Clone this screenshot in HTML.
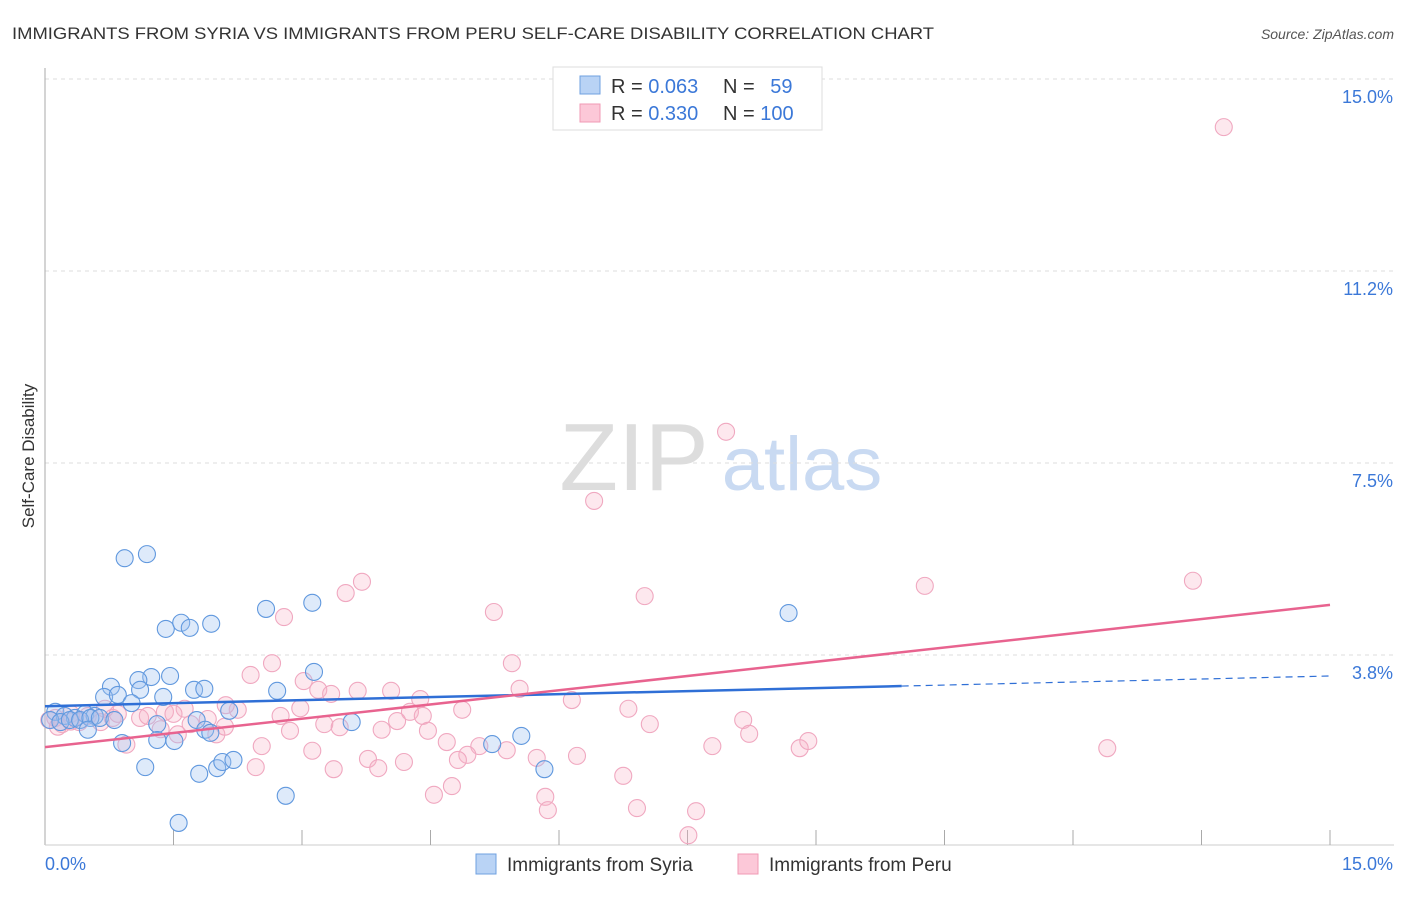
<!DOCTYPE html>
<html><head><meta charset="utf-8"><style>
body{margin:0;background:#fff;font-family:"Liberation Sans",sans-serif;}
svg text{font-family:"Liberation Sans",sans-serif;}
</style></head><body>
<svg width="1406" height="892" viewBox="0 0 1406 892">
<text x="12" y="39" font-size="17" fill="#333" textLength="922" lengthAdjust="spacingAndGlyphs">IMMIGRANTS FROM SYRIA VS IMMIGRANTS FROM PERU SELF-CARE DISABILITY CORRELATION CHART</text>
<text x="1394" y="39" font-size="14" fill="#555" font-style="italic" text-anchor="end">Source: ZipAtlas.com</text>
<text x="34" y="456" font-size="17" fill="#333" transform="rotate(-90 34 456)" text-anchor="middle">Self-Care Disability</text>
<g><text x="634" y="490" font-size="96" fill="#ddd" font-family="Liberation Serif" text-anchor="middle">ZIP</text><text x="802" y="490" font-size="76" fill="#c9daf2" text-anchor="middle">atlas</text></g>
<g id="grid"></g><g id="axes"></g><g id="marks"></g><g id="lines"></g>
<g>
<rect x="553" y="67" width="269" height="63" fill="#fff" stroke="#ddd"/>
<rect x="580" y="76" width="20" height="18" fill="#b9d3f5" stroke="#6fa0e0"/>
<rect x="580" y="104" width="20" height="18" fill="#fcc8d8" stroke="#f09ab4"/>
<text x="611" y="93" font-size="20" fill="#333">R = <tspan fill="#3b78d8">0.063</tspan></text>
<text x="723" y="93" font-size="20" fill="#333">N = <tspan dx="10" fill="#3b78d8">59</tspan></text>
<text x="611" y="120" font-size="20" fill="#333">R = <tspan fill="#3b78d8">0.330</tspan></text>
<text x="723" y="120" font-size="20" fill="#333">N = <tspan fill="#3b78d8">100</tspan></text>
</g>
<g>
<rect x="476" y="854" width="20" height="20" fill="#b9d3f5" stroke="#6fa0e0"/>
<text x="507" y="871" font-size="19" fill="#333">Immigrants from Syria</text>
<rect x="738" y="854" width="20" height="20" fill="#fcc8d8" stroke="#f09ab4"/>
<text x="769" y="871" font-size="19" fill="#333">Immigrants from Peru</text>
</g>
</svg>
<script>
const yTicks=[15,11.25,7.5,3.75];
const yTickLabels=["15.0%","11.2%","7.5%","3.8%"];
const xTickLabels=["0.0%","15.0%"];
const syriaX=[0.93,1.19,2.58,3.12,1.41,1.59,1.69,1.94,3.14,8.68,1.24,1.46,1.09,0.77,0.69,0.85,1.11,1.38,1.74,1.86,2.71,1.01,2.15,0.12,0.23,0.35,0.47,0.58,0.06,0.18,0.29,0.41,0.53,0.64,0.81,0.5,1.77,1.31,3.58,1.87,0.9,1.31,1.51,1.93,5.22,5.56,1.17,1.8,2.01,2.07,2.2,5.83,2.81,1.56];
const syriaY=[5.64,5.72,4.65,4.77,4.26,4.38,4.28,4.36,3.42,4.57,3.32,3.34,3.26,3.13,2.93,2.97,3.07,2.93,3.07,3.09,3.05,2.81,2.66,2.64,2.56,2.52,2.6,2.56,2.48,2.44,2.48,2.48,2.52,2.52,2.48,2.29,2.48,2.4,2.44,2.29,2.03,2.09,2.07,2.23,2.01,2.17,1.56,1.43,1.54,1.66,1.7,1.52,1.0,0.47];
const peruX=[13.76,7.95,6.41,13.4,10.27,3.7,3.51,5.24,7.0,2.79,2.65,2.4,5.45,3.02,3.19,3.34,3.65,4.04,4.38,5.54,6.15,2.98,2.75,2.25,2.11,1.63,1.4,1.11,0.79,4.26,4.41,4.87,6.81,7.06,8.15,8.22,3.26,3.44,3.93,4.11,2.86,2.53,3.12,4.47,4.69,5.07,4.93,4.82,5.39,5.74,6.21,3.77,3.89,4.19,3.37,2.46,7.79,8.81,8.91,12.4,6.75,4.75,4.54,5.84,5.87,6.91,7.6,7.51,0.05,0.12,0.2,0.3,0.4,0.5,0.65,0.7,0.85,0.95,1.2,1.35,1.55,1.7,1.9,2.0,2.1,1.5,0.3,0.15];
const peruY=[14.06,8.11,6.76,5.2,5.1,5.18,4.96,4.59,4.9,4.49,3.59,3.36,3.59,3.24,3.07,2.99,3.05,3.05,2.89,3.09,2.87,2.71,2.56,2.68,2.77,2.7,2.64,2.52,2.52,2.64,2.56,2.68,2.7,2.4,2.48,2.21,2.4,2.34,2.29,2.46,2.27,1.97,1.88,2.27,2.05,1.97,1.8,1.7,1.89,1.74,1.78,1.72,1.54,1.66,1.52,1.56,1.97,1.93,2.07,1.93,1.39,1.19,1.02,0.98,0.72,0.76,0.7,0.23,2.48,2.52,2.4,2.6,2.44,2.56,2.44,2.7,2.6,2.0,2.56,2.3,2.2,2.4,2.5,2.2,2.35,2.6,2.45,2.35];
const syriaTrend=[2.75,3.34];
const peruTrend=[1.95,4.73];
const NS="http://www.w3.org/2000/svg";
const X=v=>45+v/15*1285, Y=v=>847-v*51.2;
function mk(t,a,p){const e=document.createElementNS(NS,t);for(const k in a)e.setAttribute(k,a[k]);document.getElementById(p).appendChild(e);return e;}
yTicks.forEach((v,i)=>{
 const l=mk('line',{x1:45,x2:1394,y1:Y(v),y2:Y(v),stroke:'#ddd','stroke-dasharray':'4,4'},'grid');
 
 
 const t=mk('text',{x:1393,y:Y(v)+24,'font-size':18,fill:'#3b78d8','text-anchor':'end'},'grid');
 t.textContent=yTickLabels[i];
 
 
});
const ax=mk('line',{x1:45,x2:45,y1:68,y2:845,stroke:'#aaa'},'axes');


const bx=mk('line',{x1:45,x2:1394,y1:845,y2:845,stroke:'#ccc'},'axes');


for(let i=1;i<=10;i++){
 const t=mk('line',{x1:X(i*1.5),x2:X(i*1.5),y1:830,y2:845,stroke:'#aaa'},'axes');
 
 
}
[[0,45,'start'],[1,1393,'end']].forEach(([i,x,a])=>{
 const t=mk('text',{x:x,y:870,'font-size':18,fill:'#3b78d8','text-anchor':a},'axes');
 t.textContent=xTickLabels[i];
 
 
});
peruX.forEach((v,i)=>{
 const c=mk('circle',{cx:X(v),cy:Y(peruY[i]),r:8.5,fill:'rgba(248,180,200,0.3)',stroke:'#f0a8c0','stroke-width':1.1},'marks');
 
 
});
syriaX.forEach((v,i)=>{
 const c=mk('circle',{cx:X(v),cy:Y(syriaY[i]),r:8.5,fill:'rgba(160,196,240,0.35)',stroke:'#6098de','stroke-width':1.1},'marks');
 
 
});
const sy=v=>syriaTrend[0]+(syriaTrend[1]-syriaTrend[0])*v/15;
const l1=mk('line',{x1:X(0),y1:Y(sy(0)),x2:X(10),y2:Y(sy(10)),stroke:'#2f6fd6','stroke-width':2.5},'lines');


const l2=mk('line',{x1:X(10),y1:Y(sy(10)),x2:X(15),y2:Y(sy(15)),stroke:'#2f6fd6','stroke-width':1.2,'stroke-dasharray':'7,5'},'lines');


const l3=mk('line',{x1:X(0),y1:Y(peruTrend[0]),x2:X(15),y2:Y(peruTrend[1]),stroke:'#e8638f','stroke-width':2.5},'lines');


</script>
</body></html>
